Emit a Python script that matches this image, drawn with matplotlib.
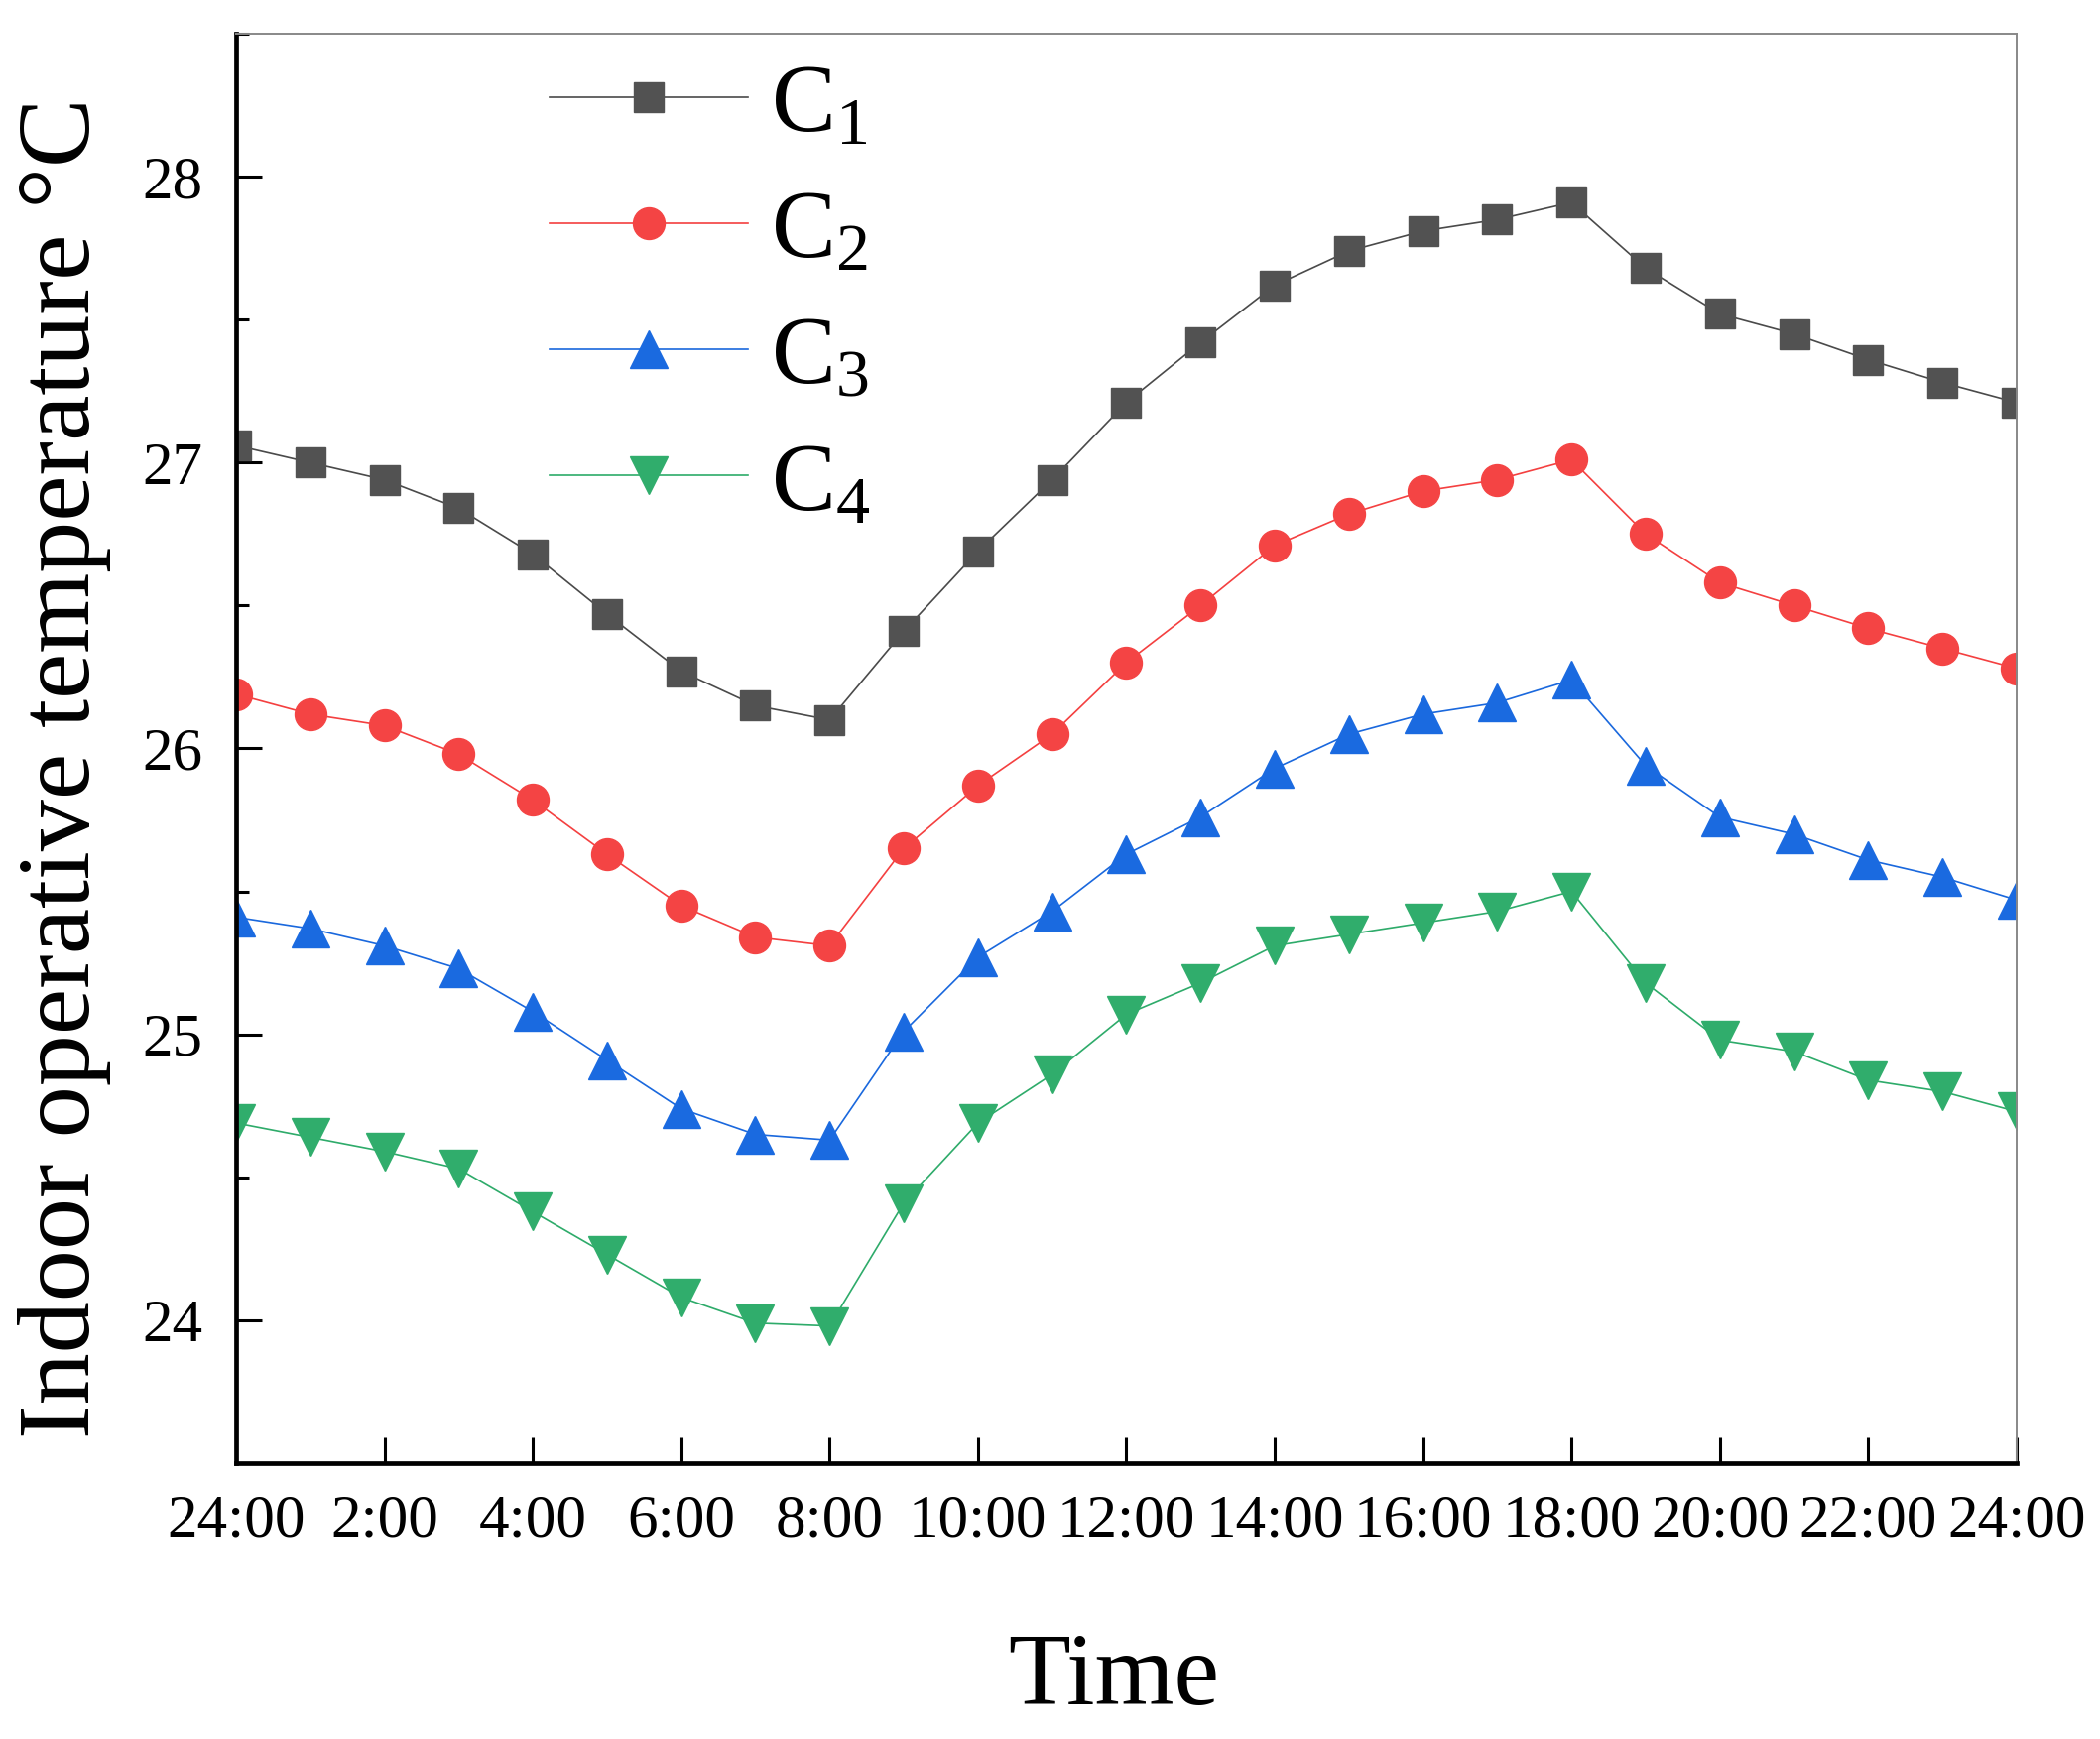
import matplotlib
matplotlib.use("Agg")
import matplotlib.pyplot as plt
import numpy as np

plt.rcParams['font.family'] = ['Liberation Serif', 'DejaVu Serif']
plt.rcParams['mathtext.fontset'] = 'custom'
plt.rcParams['mathtext.rm'] = 'Liberation Serif'
plt.rcParams['mathtext.it'] = 'Liberation Serif:italic'

hours = np.arange(0, 25)
tick_pos = np.arange(0, 25, 2)
tick_labels = ['24:00', '2:00', '4:00', '6:00', '8:00', '10:00', '12:00',
               '14:00', '16:00', '18:00', '20:00', '22:00', '24:00']

c1 = [27.06, 27.00, 26.94, 26.84, 26.68, 26.47, 26.27, 26.15, 26.10, 26.41,
      26.69, 26.94, 27.21, 27.42, 27.62, 27.74, 27.81, 27.85, 27.91, 27.68,
      27.52, 27.45, 27.36, 27.28, 27.21]
c2 = [26.19, 26.12, 26.08, 25.98, 25.82, 25.63, 25.45, 25.34, 25.31, 25.65,
      25.87, 26.05, 26.30, 26.50, 26.71, 26.82, 26.90, 26.94, 27.01, 26.75,
      26.58, 26.50, 26.42, 26.35, 26.28]
c3 = [25.41, 25.37, 25.31, 25.23, 25.08, 24.91, 24.74, 24.65, 24.63, 25.01,
      25.27, 25.43, 25.63, 25.76, 25.93, 26.05, 26.12, 26.16, 26.24, 25.94,
      25.76, 25.70, 25.61, 25.55, 25.47]
c4 = [24.69, 24.64, 24.59, 24.53, 24.38, 24.23, 24.08, 23.99, 23.98, 24.41,
      24.69, 24.86, 25.07, 25.18, 25.31, 25.35, 25.39, 25.43, 25.50, 25.18,
      24.98, 24.94, 24.84, 24.80, 24.73]

fig = plt.figure(figsize=(21.17, 17.53), dpi=100)
ax = fig.add_axes([0.1124, 0.1586, 0.8479, 0.822])

ax.plot(hours, c1, '-s', color='#4a4a4a', mfc='#525252', mec='#525252',
        lw=1.2, ms=22, label='C$_1$')
ax.plot(hours, c2, '-o', color='#f44040', mfc='#f44444', mec='#f44444',
        lw=1.2, ms=23, label='C$_2$')
ax.plot(hours, c3, '-^', color='#1a68dd', mfc='#1a6ae0', mec='#1a6ae0',
        lw=1.2, ms=28, label='C$_3$')
ax.plot(hours, c4, '-v', color='#2eab6a', mfc='#30ad6c', mec='#30ad6c',
        lw=1.2, ms=28, label='C$_4$')

ax.set_xlim(0, 24)
ax.set_ylim(23.5, 28.5)
ax.set_xticks(tick_pos)
ax.set_xticklabels(tick_labels)
ax.set_yticks([24, 25, 26, 27, 28])
ax.set_yticks([24.5, 25.5, 26.5, 27.5, 28.5], minor=True)

ax.tick_params(axis='both', which='major', direction='in', length=19,
               width=2.2, labelsize=44, colors='black')
ax.tick_params(axis='x', pad=22)
ax.tick_params(axis='y', pad=24)
ax.tick_params(axis='y', which='minor', direction='in', length=9, width=2.2)

for s in ['left', 'bottom']:
    ax.spines[s].set_linewidth(3.4)
for s in ['top', 'right']:
    ax.spines[s].set_linewidth(1.4)
    ax.spines[s].set_color('#888888')

ax.set_xlabel('Time', fontsize=74)
ax.set_ylabel('Indoor operative temperature \u00b0C', fontsize=75)
ax.xaxis.set_label_coords(0.493, -0.151)
ax.yaxis.set_label_coords(-0.0964, 0.486)
ax.xaxis.label.set_va('center')
ax.yaxis.label.set_va('center')

ax.legend(loc='upper left', bbox_to_anchor=(0.176, 0.979), frameon=False,
          fontsize=70, handlelength=2.06, handletextpad=0.24,
          labelspacing=0.39, borderpad=0, borderaxespad=0)

fig.savefig('out.png', dpi=100)
